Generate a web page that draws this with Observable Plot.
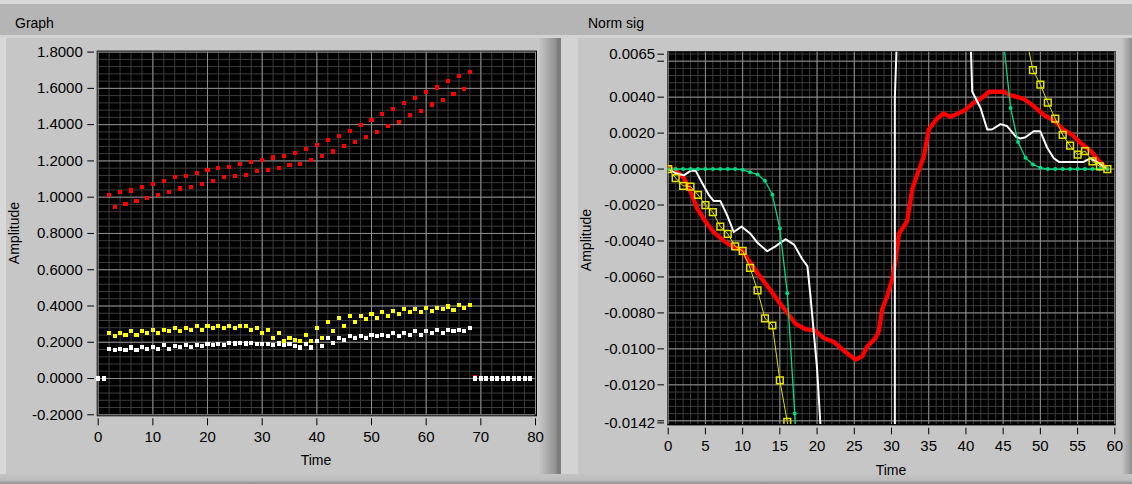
<!DOCTYPE html>
<html><head><meta charset="utf-8">
<script src="https://cdn.jsdelivr.net/npm/d3@7"></script>
<script src="https://cdn.jsdelivr.net/npm/@observablehq/plot@0.6"></script>
<style>
html,body{margin:0;padding:0;width:1132px;height:484px;overflow:hidden;background:#c6c6c6;font-family:"Liberation Sans",Arial,sans-serif;}
#wrap{position:relative;width:1132px;height:484px;overflow:hidden;}
.abs{position:absolute;}
.title{position:absolute;font-size:14px;color:#000;line-height:16px;}
.lab{position:absolute;font-size:14px;color:#000;white-space:nowrap;transform:translate(-50%,-50%);line-height:16px;}
.rot{transform:translate(-50%,-50%) rotate(-90deg);}
</style></head><body><div id="wrap">
<div class="abs" style="left:0;top:0;width:1132px;height:4px;background:#d9d9d9"></div>
<div class="abs" style="left:0;top:4px;width:1132px;height:31px;background:#b5b5b5"></div>
<div class="abs" style="left:0;top:35px;width:1132px;height:3px;background:#d3d3d3"></div>
<div class="abs" style="left:0;top:38px;width:6px;height:446px;background:#d8d8d8"></div>
<div class="abs" style="left:537px;top:38px;width:20px;height:446px;background:linear-gradient(to right,#cccccc,#8c8c8c)"></div>
<div class="abs" style="left:557px;top:38px;width:4px;height:446px;background:#7c7c7c"></div>
<div class="abs" style="left:561px;top:38px;width:17px;height:446px;background:#d3d3d3"></div>
<div class="abs" style="left:1122px;top:38px;width:10px;height:446px;background:linear-gradient(to right,#c4c4c4,#8e8e8e)"></div>
<div class="abs" style="left:0;top:474px;width:1132px;height:10px;background:linear-gradient(to bottom,#c4c4c4,#bdbdbd 60%,#8e8e8e)"></div>
<div class="title" style="left:15px;top:15px">Graph</div>
<div class="title" style="left:588px;top:15px">Norm sig</div>
<div class="lab rot" style="left:14px;top:233px">Amplitude</div>
<div class="lab" style="left:316px;top:460px">Time</div>
<div class="lab rot" style="left:586px;top:240px">Amplitude</div>
<div class="lab" style="left:891px;top:470px">Time</div>
</div>
<script>
// ---------- Graph (left) ----------
const graphTime = [0,1,2,3,4,5,6,7,8,9,10,11,12,13,14,15,16,17,18,19,20,21,22,23,24,25,26,27,28,29,30,31,32,33,34,35,36,37,38,39,40,41,42,43,44,45,46,47,48,49,50,51,52,53,54,55,56,57,58,59,60,61,62,63,64,65,66,67,68,69,70,71,72,73,74,75,76,77,78,79];
const graphRed = [0,0,1.014,0.945,1.028,0.962,1.037,0.977,1.056,0.995,1.072,1.014,1.089,1.030,1.109,1.048,1.116,1.056,1.133,1.072,1.151,1.091,1.160,1.109,1.166,1.116,1.185,1.124,1.193,1.142,1.203,1.151,1.219,1.160,1.229,1.175,1.243,1.185,1.264,1.203,1.289,1.229,1.315,1.252,1.339,1.280,1.366,1.306,1.399,1.331,1.425,1.357,1.460,1.392,1.485,1.416,1.521,1.451,1.546,1.477,1.579,1.511,1.605,1.537,1.640,1.570,1.666,1.596,1.691,0.006,0,0,0,0,0,0,0,0,0,0];
const graphYellow = [0,0,0.251,0.233,0.251,0.242,0.261,0.242,0.261,0.251,0.270,0.251,0.270,0.261,0.279,0.261,0.279,0.270,0.288,0.270,0.288,0.279,0.288,0.279,0.288,0.279,0.288,0.288,0.270,0.279,0.251,0.270,0.226,0.251,0.207,0.226,0.212,0.207,0.242,0.207,0.279,0.226,0.314,0.261,0.332,0.292,0.347,0.314,0.347,0.328,0.354,0.336,0.365,0.347,0.372,0.354,0.382,0.365,0.382,0.365,0.391,0.372,0.391,0.382,0.397,0.378,0.408,0.389,0.406,0,0,0,0,0,0,0,0,0,0,0];
const graphWhite = [0,0,0.165,0.156,0.165,0.156,0.171,0.156,0.174,0.165,0.174,0.165,0.183,0.165,0.180,0.174,0.183,0.174,0.187,0.180,0.189,0.183,0.189,0.183,0.198,0.193,0.198,0.193,0.198,0.189,0.189,0.189,0.183,0.193,0.183,0.189,0.180,0.171,0.189,0.171,0.207,0.180,0.224,0.198,0.224,0.215,0.233,0.224,0.233,0.224,0.242,0.233,0.242,0.233,0.251,0.233,0.251,0.242,0.261,0.242,0.261,0.251,0.270,0.251,0.270,0.261,0.270,0.261,0.279,0,0,0,0,0,0,0,0,0,0,0];
const graphXTicks = [0,10,20,30,40,50,60,70,80];
const graphYTicks = [-0.2,0,0.2,0.4,0.6,0.8,1.0,1.2,1.4,1.6,1.8];
const graphMinorX = d3.range(0, 81, 2);
const graphMinorY = d3.range(0, 51).map(i => -0.2 + i * 0.04);

// ---------- Norm sig (right) ----------
const normRedTime = [0,1.2,2.1,3.0,3.9,5.0,6.1,7.5,8.6,9.9,11.0,12.2,13.5,14.9,16.2,17.1,18.4,19.8,20.9,22.2,23.6,25.2,26.1,26.7,27.85,28.3,28.75,29.4,30.1,30.5,31.0,32.1,32.8,33.45,34.35,35.0,36.1,37.0,37.9,39.0,39.95,41.06,41.96,43.1,44.2,45.1,46.0,47.8,49.1,50.5,51.8,53.1,54.3,55.4,56.8,57.9,59.0];
const normRedValue = [0.0001,-0.00013,-0.0005,-0.00125,-0.0022,-0.0029,-0.0035,-0.0040,-0.0043,-0.0045,-0.0052,-0.0059,-0.0066,-0.0074,-0.0081,-0.0086,-0.0089,-0.0090,-0.0094,-0.0096,-0.0101,-0.0106,-0.0104,-0.0099,-0.0094,-0.0090,-0.0078,-0.0071,-0.0061,-0.0052,-0.0036,-0.0029,-0.0011,-0.0003,0.0007,0.0022,0.0028,0.0031,0.0029,0.0031,0.0033,0.0037,0.0039,0.0043,0.0043,0.0043,0.0041,0.0039,0.0035,0.0030,0.0027,0.0022,0.0019,0.00145,0.0010,0.00043,0.0];
const normWhiteTime = [0,0.85,2.1,3.0,3.7,4.6,5.45,6.1,7.0,7.9,8.8,9.85,11.06,12.0,13.3,14.4,15.75,16.9,18.0,18.7,19.1,20.0,21.0,30.45,30.45,30.75,31.0,40.5,40.6,40.85,41.96,42.86,43.5,44.65,45.5,46.7,47.3,48.0,49.1,50.0,50.9,51.8,52.5,54.05,55.8,56.7,57.6,59.0];
const normWhiteValue = [0,-0.0002,-0.00035,-0.0001,-0.0001,-0.0008,-0.00143,-0.00177,-0.00177,-0.00255,-0.0035,-0.0032,-0.0036,-0.0041,-0.00457,-0.0043,-0.0039,-0.0042,-0.0050,-0.0054,-0.0070,-0.0111,-0.0180,-0.0200,0.0040,0.0075,0.0200,0.0200,0.0075,0.0043,0.0034,0.0022,0.0022,0.0025,0.0024,0.0018,0.0017,0.00177,0.0021,0.0021,0.0012,0.0006,0.0004,0.0004,0.0004,0.0006,0.0004,0];
const normGreenTime = [0,1,2,3,4,5,6,7,8,9,10,11,12,13,14,15,16,17,18,45,46,47,48,49,50,51,52,53,54,55,56,57,58,59];
const normGreenValue = [0,0,0,0,0,0,0,0,0,0,-0.00004,-0.00017,-0.0003,-0.00065,-0.00143,-0.0033,-0.0069,-0.0136,-0.0200,0.0073,0.0034,0.0015,0.00063,0.00025,0.00008,0,0,0,0,0,0,0,0,0];
const normYellowTime = [0,1,2,3,4,5,6,7,8,9,10,11,12,13,14,15,16,17,48,49,50,51,52,53,54,55,56,57,58,59];
const normYellowValue = [0,-0.0005,-0.00093,-0.00097,-0.00143,-0.0020,-0.0024,-0.0032,-0.0036,-0.0043,-0.00455,-0.0055,-0.00675,-0.0083,-0.0087,-0.01175,-0.01406,-0.0164,0.0075,0.0055,0.0047,0.0037,0.0028,0.0019,0.0013,0.0008,0.0010,0.00043,0.00015,0];
const normXTicks = [0,5,10,15,20,25,30,35,40,45,50,55,60];
const normYTicks = [0.004,0.002,0,-0.002,-0.004,-0.006,-0.008,-0.010,-0.012];
const normYTopTick = [0.0065];
const normYBottomTick = [-0.0142];
const normYExtraTicks = [0.006,-0.014];
const normMinorX = d3.range(0, 61);
const normMajorY = [0.006,0.004,0.002,0,-0.002,-0.004,-0.006,-0.008,-0.010,-0.012,-0.014];
const normMinorY = d3.range(0, 52).map(i => -0.014 + i * 0.0004);

const minorC = "#3c3c3c", majorC = "#8e8e8e";
const fmt4 = d => d.toFixed(4);

const graphRows = graphTime.map((t, i) => ({t, red: graphRed[i], yellow: graphYellow[i], white: graphWhite[i]}));
const rows = (ts, vs) => ts.map((t, i) => ({t, v: vs[i], seg: t < 30 ? "a" : "b"}));
const redRows = rows(normRedTime, normRedValue);
const whiteRows = rows(normWhiteTime, normWhiteValue);
const greenRows = rows(normGreenTime, normGreenValue);
const yellowRows = rows(normYellowTime, normYellowValue);

const common = {fontFamily: "Liberation Sans, Arial, sans-serif", fontSize: "15px", color: "#000", background: "transparent", overflow: "visible"};
const sq = {symbol: "square", r: 2.3, shapeRendering: "crispEdges"};

const left = Plot.plot({
  width: 548, height: 484,
  marginLeft: 97.7, marginRight: 13, marginTop: 51.6, marginBottom: 69.7,
  style: common,
  x: {domain: [0, 80]},
  y: {domain: [-0.2, 1.8]},
  marks: [
    Plot.frame({fill: "#000", inset: -1.5}),
    Plot.gridX(graphMinorX, {stroke: minorC, strokeOpacity: 1}),
    Plot.gridY(graphMinorY, {stroke: minorC, strokeOpacity: 1}),
    Plot.gridX(graphXTicks, {stroke: majorC, strokeOpacity: 1}),
    Plot.gridY(graphYTicks, {stroke: majorC, strokeOpacity: 1}),
    Plot.axisX({ticks: graphXTicks, tickSize: 7, tickPadding: 6, dy: 4, label: null, tickFormat: d => String(d)}),
    Plot.axisY({ticks: graphYTicks, tickSize: 6.7, tickPadding: 5, dx: -3.7, label: null, tickFormat: fmt4}),
    Plot.dot(graphRows, {x: "t", y: "red", fill: "#ff0000", ...sq}),
    Plot.dot(graphRows, {x: "t", y: "yellow", fill: "#ffff00", ...sq}),
    Plot.dot(graphRows, {x: "t", y: "white", fill: "#ffffff", ...sq})
  ]
});

const right = Plot.plot({
  width: 572, height: 484,
  marginLeft: 107.7, marginRight: 17.7, marginTop: 51.7, marginBottom: 60.1,
  style: common,
  x: {domain: [0, 60]},
  y: {domain: [-0.0142, 0.0065]},
  marks: [
    Plot.frame({fill: "#000", inset: -1}),
    Plot.gridX(normMinorX, {stroke: minorC, strokeOpacity: 1}),
    Plot.gridY(normMinorY, {stroke: minorC, strokeOpacity: 1}),
    Plot.gridX(normXTicks, {stroke: majorC, strokeOpacity: 1}),
    Plot.gridY(normMajorY, {stroke: majorC, strokeOpacity: 1}),
    Plot.axisX({ticks: normXTicks, tickSize: 6.6, tickPadding: 5.7, dy: 3.8, label: null, tickFormat: d => String(d)}),
    Plot.axisY({ticks: normYTicks, tickSize: 6.7, tickPadding: 2.7, dx: -3.7, label: null, tickFormat: fmt4}),
    Plot.axisY({ticks: normYTopTick, tickSize: 6.7, tickPadding: 2.7, dx: -3.7, dy: 2, label: null, tickFormat: fmt4}),
    Plot.axisY({ticks: normYBottomTick, tickSize: 6.7, tickPadding: 2.7, dx: -3.7, dy: -1.5, label: null, tickFormat: fmt4}),
    Plot.axisY({ticks: normYExtraTicks, tickSize: 6.7, dx: -3.7, label: null, tickFormat: () => ""}),
    Plot.line(redRows, {x: "t", y: "v", stroke: "#ff0000", strokeWidth: 4.3, strokeLinejoin: "round", clip: true}),
    Plot.line(whiteRows, {x: "t", y: "v", stroke: "#ffffff", strokeWidth: 2, clip: true}),
    Plot.line(greenRows, {x: "t", y: "v", z: "seg", stroke: "#00dc82", strokeWidth: 1.3, clip: true}),
    Plot.dot(greenRows, {x: "t", y: "v", r: 2, fill: "#00dc82", clip: true}),
    Plot.line(yellowRows, {x: "t", y: "v", z: "seg", stroke: "#e4e400", strokeWidth: 1, clip: true}),
    Plot.dot(yellowRows, {x: "t", y: "v", symbol: "square", r: 3.8, fill: "none", stroke: "#e4e400", strokeWidth: 1.5, clip: true})
  ]
});

const wrap = document.getElementById("wrap");
for (const [svg, x] of [[left, 0], [right, 560]]) {
  svg.style.position = "absolute";
  svg.style.left = x + "px";
  svg.style.top = "0px";
  svg.style.maxWidth = "none";
  wrap.appendChild(svg);
}
</script>
</body></html>
